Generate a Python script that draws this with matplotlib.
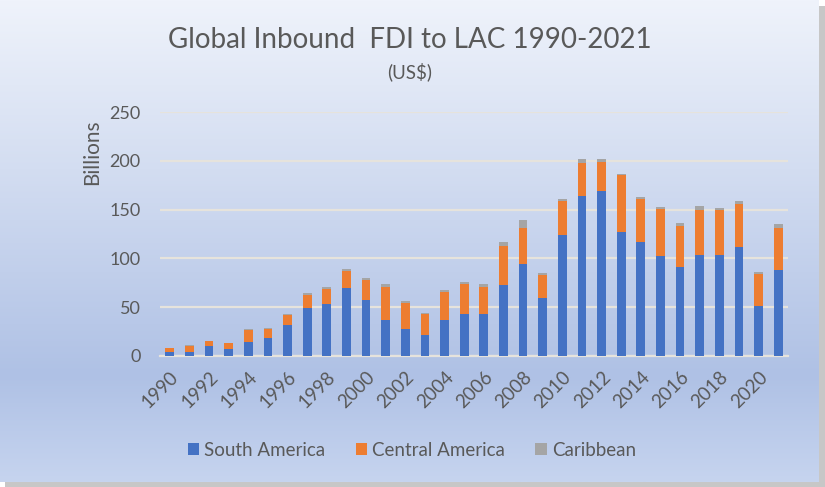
import numpy as np
import matplotlib
matplotlib.use("Agg")
import matplotlib.pyplot as plt
from matplotlib.patches import Rectangle
from matplotlib.colors import LinearSegmentedColormap

plt.rcParams['font.family'] = ['Lato', 'DejaVu Sans']

years = list(range(1990, 2022))
south_america = [4, 4.5, 10, 7, 14, 18, 32, 49, 53, 70,
                 57, 37, 28, 22, 37, 43, 43, 73, 94.5, 59.5,
                 123.5, 164, 169.5, 127, 117, 102.5, 91, 103, 103, 111.5,
                 51, 88]
central_america = [4, 6, 5, 6, 13, 10, 10, 14, 16, 17,
                   21, 34, 26.5, 21.5, 29, 31, 28, 40, 37, 23.5,
                   35, 34, 29.5, 58.5, 44, 48.5, 42, 47, 47, 44,
                   33, 43]
caribbean = [0.5, 0.5, 0.7, 0.5, 0.8, 1, 1.2, 2, 2, 2,
             2, 2.5, 1.5, 1, 1.7, 2, 3, 4, 8, 2.5,
             2.5, 3.5, 3, 1, 2, 2, 3, 4, 2, 3.5,
             2.5, 4]
tick_years = years[::2]

c_south = '#4472C4'
c_central = '#ED7D31'
c_carib = '#A5A5A5'
text_col = '#595959'

fig = plt.figure(figsize=(8.25, 4.87), dpi=100)
fig.patch.set_facecolor('white')

# chart area background: vertical gradient with a soft drop shadow
bg = fig.add_axes([0, 0, 1, 1], zorder=-5)
bg.set_xlim(0, 825)
bg.set_ylim(487, 0)
bg.axis('off')
bg.add_patch(Rectangle((5, 6), 820, 481, facecolor='#9a9a9a', edgecolor='none', alpha=0.55))
grad_cmap = LinearSegmentedColormap.from_list(
    'bggrad', [(0.0, '#eff3fb'), (0.35, '#d3ddf1'), (0.78, '#afc1e5'), (1.0, '#c6d4ef')])
grad = np.linspace(0, 1, 256).reshape(-1, 1)
bg.imshow(grad, cmap=grad_cmap, aspect='auto', extent=(0, 819, 482, 0), zorder=1)

ax = fig.add_axes([160 / 825, (487 - 356) / 487, (788 - 160) / 825, (356 - 112) / 487])
ax.set_facecolor('none')

x = np.arange(len(years))
w = 0.45
sa = np.array(south_america)
ca = np.array(central_america)
cb = np.array(caribbean)
ax.bar(x, sa, w, color=c_south, label='South America', zorder=3)
ax.bar(x, ca, w, bottom=sa, color=c_central, label='Central America', zorder=3)
ax.bar(x, cb, w, bottom=sa + ca, color=c_carib, label='Caribbean', zorder=3)

ax.set_xlim(-0.5, len(years) - 0.5)
ax.set_ylim(0, 250)
ax.set_yticks(range(0, 251, 50))
ax.yaxis.grid(True, color='#e6e3dc', linewidth=1.6, zorder=0)
ax.set_axisbelow(True)
for s in ['top', 'right', 'left']:
    ax.spines[s].set_visible(False)
ax.spines['bottom'].set_color('#e6e3dc')
ax.spines['bottom'].set_linewidth(1.6)
ax.tick_params(axis='both', length=0, colors=text_col)
ax.tick_params(axis='y', pad=14, labelsize=13)

ax.set_xticks([years.index(y) for y in tick_years])
ax.set_xticklabels([str(y) for y in tick_years], rotation=45, ha='right',
                   rotation_mode='anchor', fontsize=13.5)
ax.tick_params(axis='x', pad=9)

fig.text(92 / 825, 1 - 152 / 487, 'Billions', rotation=90, ha='center', va='center',
         fontsize=15, color=text_col)
fig.text(410 / 825, 1 - 40 / 487, 'Global Inbound  FDI to LAC 1990-2021', ha='center',
         va='center', fontsize=20, color=text_col)
fig.text(410 / 825, 1 - 72 / 487, '(US$)', ha='center', va='center',
         fontsize=13.5, color=text_col)

ax.legend(loc='center', bbox_to_anchor=(412 / 825, 1 - 450 / 487),
          bbox_transform=fig.transFigure, ncol=3, frameon=False,
          fontsize=13.5, labelcolor=text_col, handlelength=0.6, handleheight=0.6,
          handletextpad=0.3, columnspacing=1.6)

fig.savefig('out.png', dpi=100)
